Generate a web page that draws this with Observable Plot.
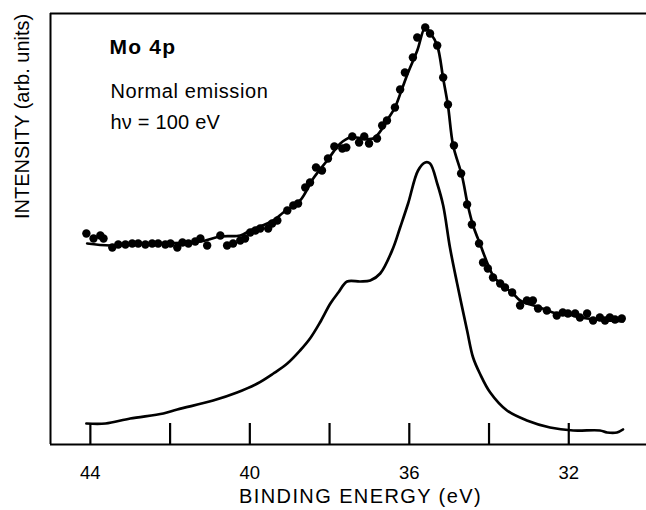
<!DOCTYPE html>
<html>
<head>
<meta charset="utf-8">
<script src="https://cdn.jsdelivr.net/npm/d3@7"></script>
<script src="https://cdn.jsdelivr.net/npm/@observablehq/plot@0.6"></script>
<style>
  html, body { margin: 0; padding: 0; background: #fff; }
  #chart svg { display: block; }
</style>
</head>
<body>
<div id="chart"></div>
<script>
// Binding energies (eV) and intensities (arb. units)

// Lower curve (solid line)
const lowerEnergy = [44.10, 43.62, 43.00, 42.17, 41.82, 40.92, 40.32, 39.81, 39.41, 39.06, 38.74, 38.49, 38.24, 37.98, 37.78, 37.56, 37.23, 36.98, 36.73, 36.41, 36.23, 36.03, 35.78, 35.60, 35.48, 35.30, 35.15, 34.98, 34.80, 34.55, 34.40, 34.23, 33.97, 33.55, 33.05, 32.47, 31.89, 31.22, 31.04, 30.79, 30.64];
const lowerIntensity = [21, 21, 26, 31, 35, 44, 52, 61, 71, 81, 94, 106, 122, 141, 152, 163, 163, 164, 171, 196, 217, 241, 274, 282, 281, 261, 239, 197, 161, 114, 87, 71, 52, 34, 24, 17, 14, 14, 12, 12, 15];

// Upper curve: fitted line
const fitEnergy = [44.08, 43.50, 42.50, 41.24, 40.74, 40.24, 39.99, 39.41, 39.16, 38.74, 38.41, 38.06, 37.73, 37.48, 36.91, 36.66, 36.56, 36.36, 36.18, 36.03, 35.80, 35.60, 35.48, 35.30, 35.15, 35.03, 34.90, 34.68, 34.53, 34.40, 34.23, 33.90, 33.72, 33.40, 33.22, 32.72, 32.40, 31.89, 31.54, 30.64];
const fitIntensity = [201, 199, 201, 203, 208, 209, 214, 224, 232, 244, 266, 284, 301, 307, 306, 317, 324, 337, 356, 372, 394, 417, 412, 399, 366, 339, 299, 269, 239, 219, 201, 169, 161, 151, 144, 137, 132, 129, 126, 123];

// Upper curve: measured points
const dotEnergy = [44.10, 43.92, 43.75, 43.67, 43.45, 43.30, 43.12, 42.95, 42.80, 42.62, 42.45, 42.30, 42.12, 41.99, 41.82, 41.69, 41.54, 41.37, 41.24, 41.07, 40.74, 40.57, 40.42, 40.24, 40.12, 39.99, 39.86, 39.74, 39.54, 39.44, 39.31, 39.06, 38.91, 38.79, 38.61, 38.49, 38.34, 38.19, 38.04, 37.88, 37.68, 37.58, 37.43, 37.26, 37.13, 37.01, 36.81, 36.68, 36.56, 36.36, 36.23, 36.11, 35.91, 35.80, 35.60, 35.48, 35.30, 35.15, 35.03, 34.88, 34.70, 34.55, 34.43, 34.25, 34.15, 34.03, 33.90, 33.72, 33.60, 33.42, 33.22, 33.05, 32.90, 32.77, 32.55, 32.30, 32.15, 32.02, 31.84, 31.72, 31.54, 31.39, 31.22, 31.09, 30.97, 30.84, 30.67];
const dotIntensity = [211, 206, 209, 206, 197, 200, 200, 201, 201, 200, 201, 201, 200, 201, 197, 202, 201, 203, 206, 199, 209, 199, 201, 204, 206, 212, 214, 216, 216, 221, 224, 234, 239, 241, 257, 262, 277, 274, 286, 298, 296, 297, 308, 302, 308, 301, 306, 319, 324, 337, 355, 372, 387, 407, 417, 411, 399, 367, 340, 299, 271, 240, 220, 201, 182, 176, 167, 161, 157, 152, 139, 144, 144, 136, 134, 129, 132, 131, 131, 127, 131, 124, 127, 124, 127, 125, 126];

// Axis ticks
const tickValues = [44, 42, 40, 38, 36, 34, 32];
const tickLabels = [44, 40, 36, 32];

// Text
const xLabel = "BINDING ENERGY (eV)";
const yLabel = "INTENSITY (arb. units)";
const titleText = "Mo 4p";
const noteLines = ["Normal emission", "hν = 100 eV"];

const xDomain = [45, 30.05];
const yDomain = [0, 431];

const lower = lowerEnergy.map((e, i) => ({e, v: lowerIntensity[i]}));
const fit = fitEnergy.map((e, i) => ({e, v: fitIntensity[i]}));
const dots = dotEnergy.map((e, i) => ({e, v: dotIntensity[i]}));

const font = "'Liberation Sans', Arial, Helvetica, sans-serif";

const svg = Plot.plot({
  width: 646,
  height: 510,
  marginLeft: 50,
  marginRight: 0,
  marginTop: 13,
  marginBottom: 66,
  style: {fontFamily: font, fontSize: "18px", background: "#fff", color: "#000"},
  x: {domain: xDomain, axis: null},
  y: {domain: yDomain, axis: null},
  marks: [
    // frame: left, top, bottom
    Plot.ruleX([xDomain[0]], {stroke: "#000", strokeWidth: 2}),
    Plot.ruleY([yDomain[1]], {stroke: "#000", strokeWidth: 2.2}),
    Plot.ruleY([yDomain[0]], {stroke: "#000", strokeWidth: 2}),
    // inward ticks
    Plot.tickX(tickValues, {x: d => d, stroke: "#000", strokeWidth: 2.2, insetTop: 410}),
    // tick labels
    Plot.text(tickLabels, {x: d => d, text: d => String(d), frameAnchor: "bottom", dy: 34, lineAnchor: "bottom", fontSize: 18.5, fill: "#000"}),
    // curves
    Plot.line(lower, {x: "e", y: "v", stroke: "#000", strokeWidth: 2.7, curve: "catmull-rom"}),
    Plot.line(fit, {x: "e", y: "v", stroke: "#000", strokeWidth: 2.7, curve: "catmull-rom"}),
    Plot.dot(dots, {x: "e", y: "v", r: 4.2, fill: "#000", stroke: "none"}),
    // annotations
    Plot.text([titleText], {text: d => d, frameAnchor: "top-left", dx: 59, dy: 40, lineAnchor: "bottom", textAnchor: "start", fontSize: 21, fontWeight: "bold", fill: "#000"}),
    Plot.text([noteLines[0]], {text: d => d, frameAnchor: "top-left", dx: 60, dy: 84, lineAnchor: "bottom", textAnchor: "start", fontSize: 20, fill: "#000"}),
    Plot.text([noteLines[1]], {text: d => d, frameAnchor: "top-left", dx: 60, dy: 115, lineAnchor: "bottom", textAnchor: "start", fontSize: 20, fill: "#000"}),
    // axis labels
    Plot.text([xLabel], {text: d => d, frameAnchor: "bottom", dx: 12, dy: 58, lineAnchor: "bottom", fontSize: 20, fill: "#000"}),
    Plot.text([yLabel], {text: d => d, frameAnchor: "left", dx: -22, dy: -10, rotate: -90, lineAnchor: "bottom", fontSize: 20, fill: "#000"})
  ]
});

// Slight letter spacing to match the wider typesetting of the original
const spacing = new Map([[xLabel, "1.4px"], [titleText, "1.2px"], [noteLines[0], "0.6px"], [noteLines[1], "0.2px"]]);
d3.select(svg).selectAll("text").each(function() {
  const t = this.textContent;
  if (spacing.has(t)) this.setAttribute("letter-spacing", spacing.get(t));
});

document.getElementById("chart").appendChild(svg);
</script>
</body>
</html>
